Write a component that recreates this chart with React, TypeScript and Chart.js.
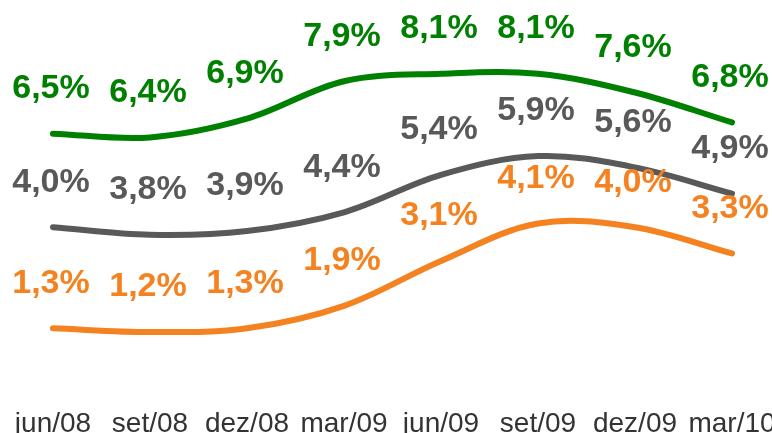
import React, { useEffect, useRef } from "react";
import { Chart, registerables } from "chart.js";

Chart.register(...registerables);

const categories = ["jun/08", "set/08", "dez/08", "mar/09", "jun/09", "set/09", "dez/09", "mar/10"];
const greenValues = [6.5, 6.4, 6.9, 7.9, 8.1, 8.1, 7.6, 6.8];
const grayValues = [4.0, 3.8, 3.9, 4.4, 5.4, 5.9, 5.6, 4.9];
const orangeValues = [1.3, 1.2, 1.3, 1.9, 3.1, 4.1, 4.0, 3.3];

const GREEN = "#008000";
const GRAY = "#595959";
const ORANGE = "#F58220";

const fmt = (v: number) => v.toFixed(1).replace(".", ",") + "%";

const labelPlugin = {
  id: "valueLabels",
  afterDatasetsDraw(chart: any) {
    const ctx = chart.ctx;
    ctx.save();
    ctx.font = "bold 34px 'Liberation Sans', Arial, sans-serif";
    ctx.textAlign = "center";
    ctx.textBaseline = "middle";
    chart.data.datasets.forEach((ds: any, di: number) => {
      const meta = chart.getDatasetMeta(di);
      ctx.fillStyle = ds.borderColor;
      meta.data.forEach((pt: any, i: number) => {
        ctx.fillText(fmt(ds.data[i]), pt.x - 2, pt.y - 45);
      });
    });
    ctx.restore();
  },
};

export default function App() {
  const ref = useRef<HTMLCanvasElement>(null);
  useEffect(() => {
    document.body.style.margin = "0";
    const chart = new Chart(ref.current!, {
      type: "line",
      data: {
        labels: categories,
        datasets: [
          { label: "A", data: greenValues, borderColor: GREEN, backgroundColor: GREEN },
          { label: "B", data: grayValues, borderColor: GRAY, backgroundColor: GRAY },
          { label: "C", data: orangeValues, borderColor: ORANGE, backgroundColor: ORANGE },
        ].map((d) => ({
          ...d,
          borderWidth: 6,
          pointRadius: 0,
          tension: 0.35,
          borderCapStyle: "round" as const,
          fill: false,
        })),
      },
      options: {
        animation: false,
        responsive: false,
        maintainAspectRatio: false,
        layout: { padding: { left: 53, right: 40, top: 0, bottom: 0 } },
        plugins: { legend: { display: false }, tooltip: { enabled: false } },
        scales: {
          x: {
            offset: false,
            grid: { display: false, drawTicks: false },
            border: { display: false },
            ticks: {
              color: "#333333",
              font: { family: "'Liberation Sans', Arial, sans-serif", size: 28 },
              padding: 30,
              autoSkip: false,
              maxRotation: 0,
              minRotation: 0,
            },
            afterFit: (scale: any) => {
              scale.height = 56;
              scale.paddingLeft = 0;
              scale.paddingRight = 0;
            },
          },
          y: {
            display: false,
            min: 0,
            max: 10.07,
          },
        },
      },
      plugins: [labelPlugin],
    });
    return () => chart.destroy();
  }, []);
  return (
    <div style={{ width: 772, height: 433 }}>
      <canvas ref={ref} width={772} height={433} style={{ width: 772, height: 433 }} />
    </div>
  );
}
